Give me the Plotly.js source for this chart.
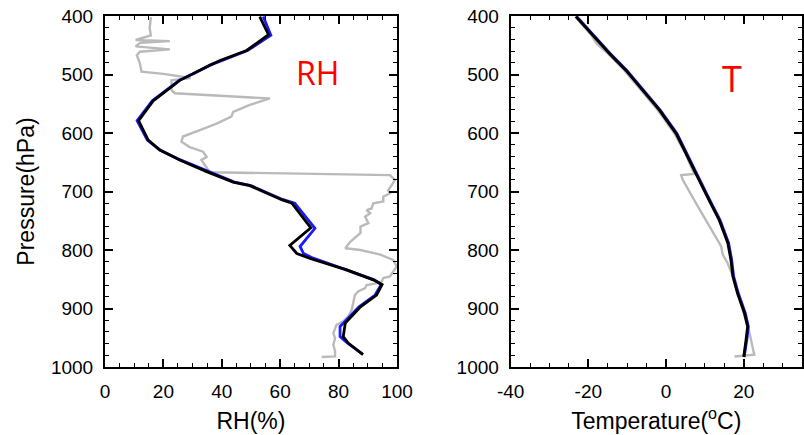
<!DOCTYPE html>
<html>
<head>
<meta charset="utf-8">
<script src="https://cdn.plot.ly/plotly-3.0.1.min.js"></script>
<style>html,body{margin:0;padding:0;background:#fff;}#chart{width:804px;height:435px;}</style>
</head>
<body>
<div id="chart"></div>
<script>
// ---- RH panel data ----
const rhObsP  = [402,421,433,441,443,446,452,457,461,467,480,495,499,504,506,510,527,532,541,552,564,572,584,595,606,615,624,632,641,646,658,667,672,680,689,698,703,709,717,720,729,732,737,743,754,760,771,786,797,800,808,817,828,845,848,854,857,860,865,871,877,891,902,914,922,928,936,942,951,962,973,982,983];
const rhObs   = [15.7,15.3,15.7,10.5,22.2,12.0,10.5,22.2,12.0,10.9,11.9,12.5,20.0,27.9,29.3,22.8,22.8,23.9,56.5,49.6,43.9,43.3,38.2,32.5,26.7,26.2,29.0,33.6,34.8,33.0,34.8,35.9,97.6,99.3,98.2,97.0,97.6,95.3,95.3,91.9,91.3,89.6,90.8,89.1,90.2,87.5,87.5,84.0,82.3,87.5,94.3,98.7,99.9,97.6,95.3,94.8,92.8,89.6,89.1,86.7,85.6,85.0,84.5,83.3,81.6,79.3,78.8,78.2,78.8,78.2,78.8,78.8,74.2];

const rhBlueP = [401,433,459,476,484,498,510,545,579,612,629,646,666,684,690,714,720,763,794,806,814,834,851,859,877,897,922,931,948,959,978];
const rhBlue  = [54.2,56.8,48.8,39.6,36.0,30.6,25.4,16.2,11.0,14.5,18.8,25.8,35.2,44.3,50.0,61.0,65.0,71.9,66.8,68.0,71.3,83.0,92.2,94.6,92.5,87.0,82.0,80.5,80.5,83.0,88.2];

const rhBlackP = [401,432,459,476,484,498,510,545,579,612,629,646,666,684,690,714,720,762,792,806,815,834,851,859,877,897,925,948,959,979];
const rhBlack  = [53.0,56.0,48.5,39.4,35.9,30.5,25.6,16.5,11.5,14.8,18.8,25.6,34.8,43.9,49.6,60.5,64.0,70.5,63.3,65.7,70.5,82.8,91.9,94.9,93.0,87.5,82.3,81.6,83.3,88.4];

// ---- Temperature panel data ----
const tObsP = [401,433,447,464,493,527,561,601,635,660,670,672,680,720,760,794,808,823,845,885,925,942,979,982];
const tObs  = [-23.4,-19.2,-17.9,-15.0,-10.7,-6.4,-2.1,2.2,5.0,6.6,7.3,3.9,4.3,7.7,11.2,14.2,14.6,15.9,17.2,18.9,20.6,21.5,22.7,17.6];

const tBlueP = [401,433,464,493,527,561,601,635,675,715,749,788,817,845,874,908,931,953,979,983];
const tBlue  = [-23.0,-18.7,-14.4,-10.1,-5.8,-1.5,2.8,5.4,8.3,11.3,13.9,16.1,16.9,17.4,18.6,20.4,21.2,20.8,20.3,20.1];

const tBlackP = [401,433,464,493,527,561,601,635,675,715,749,788,817,845,874,908,931,953,979,983];
const tBlack  = [-23.2,-18.9,-14.6,-10.3,-6.0,-1.7,2.6,5.2,8.1,11.1,13.7,15.9,16.7,17.2,18.4,20.2,21.0,20.6,20.2,20.0];

// ---- tick labels / texts ----
const tTickVals = [-40, -20, 0, 20];
const tTickText = ['-40', '-20', '0', '20'];
const rhLabel = 'RH';
const tLabel = 'T';
const yTitle = 'Pressure(hPa)';
const x1Title = 'RH(%)';
const x2Title = 'Temperature(<sup>o</sup>C)';

const FONT = 'Liberation Sans, Arial, Helvetica, sans-serif';
const GRAY = '#bababa', BLUE = '#1a1aff', BLACK = '#000000';

function tr(x, y, color, width, xa, ya) {
  return {x: x, y: y, type: 'scatter', mode: 'lines', xaxis: xa, yaxis: ya,
          line: {color: color, width: width}, hoverinfo: 'skip', showlegend: false};
}

const data = [
  tr(rhObs, rhObsP, GRAY, 2.4, 'x', 'y'),
  tr(rhBlue, rhBlueP, BLUE, 2.8, 'x', 'y'),
  tr(rhBlack, rhBlackP, BLACK, 2.8, 'x', 'y'),
  tr(tObs, tObsP, GRAY, 2.4, 'x2', 'y2'),
  tr(tBlue, tBlueP, BLUE, 2.8, 'x2', 'y2'),
  tr(tBlack, tBlackP, BLACK, 2.8, 'x2', 'y2')
];

function xax(domain, range, title) {
  return {
    domain: domain, range: range, dtick: 20, tick0: 0,
    ticks: 'inside', ticklen: 8, tickwidth: 2, tickcolor: '#000',
    minor: {dtick: 5, ticks: 'inside', ticklen: 4, tickwidth: 1, tickcolor: '#000'},
    showline: true, linewidth: 2, linecolor: '#000', mirror: 'allticks',
    showgrid: false, zeroline: false,
    tickfont: {family: FONT, size: 19, color: '#000'},
    ticklabelstandoff: 6,
    title: {text: title, font: {family: FONT, size: 23, color: '#000'}, standoff: 12},
    fixedrange: true
  };
}
function yax(anchor, title) {
  const a = {
    anchor: anchor, range: [1000, 400], dtick: 100, tick0: 0,
    ticks: 'inside', ticklen: 8, tickwidth: 2, tickcolor: '#000',
    minor: {dtick: 20, ticks: 'inside', ticklen: 4, tickwidth: 1, tickcolor: '#000'},
    showline: true, linewidth: 2, linecolor: '#000', mirror: 'allticks',
    showgrid: false, zeroline: false,
    tickfont: {family: FONT, size: 19, color: '#000'},
    ticklabelstandoff: 6,
    fixedrange: true
  };
  if (title) a.title = {text: title, font: {family: FONT, size: 23, color: '#000'}, standoff: 10};
  return a;
}

const x2 = xax([0.582, 1], [-40, 35], x2Title);
x2.anchor = 'y2';
x2.tickmode = 'array';
x2.tickvals = tTickVals;
x2.ticktext = tTickText;
x2.minor = {tickmode: 'linear', tick0: 0, dtick: 5, ticks: 'inside', ticklen: 4, tickwidth: 1, tickcolor: '#000'};

const layout = {
  width: 804, height: 435,
  margin: {l: 105, r: 2, t: 16, b: 68},
  paper_bgcolor: '#fff', plot_bgcolor: '#fff',
  xaxis: xax([0, 0.4189], [0, 100], x1Title),
  yaxis: yax('x', yTitle),
  xaxis2: x2,
  yaxis2: yax('x2', null),
  annotations: [
    {text: rhLabel, xref: 'x', yref: 'y', x: 72.7, y: 496, showarrow: false,
     font: {family: 'Open Sans, Noto Sans, sans-serif', size: 32, color: '#ff0000'}},
    {text: tLabel, xref: 'x2', yref: 'y2', x: 17.1, y: 506, showarrow: false,
     font: {family: 'Open Sans, Noto Sans, sans-serif', size: 36, color: '#ff0000'}}
  ],
  showlegend: false
};

Plotly.newPlot('chart', data, layout, {displayModeBar: false, staticPlot: true});
</script>
</body>
</html>
